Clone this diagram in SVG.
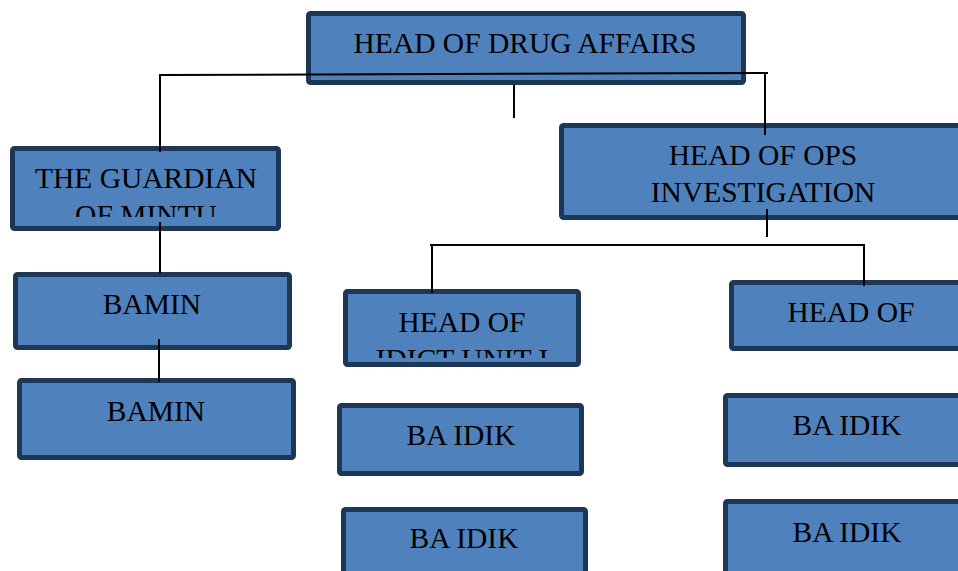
<svg xmlns="http://www.w3.org/2000/svg" width="958" height="571" viewBox="0 0 958 571">
<style>
.box{fill:#4F81BD;stroke:#1F3757;stroke-width:5;}
.t{font-family:"Liberation Serif","Times New Roman",serif;font-size:29.5px;fill:#000;text-anchor:middle;}
.c{stroke:#000;stroke-width:2;fill:none;}
</style>
<defs>
<clipPath id="clipG"><rect x="0" y="140" width="300" height="77"/></clipPath>
<clipPath id="clipI"><rect x="330" y="280" width="260" height="78"/></clipPath>
</defs>
<rect width="958" height="571" fill="#fff"/>
<g id="nodes">
<g id="n-drug"><rect class="box" x="308.5" y="13.5" width="435" height="69" rx="2"/><text class="t" x="525" y="53">HEAD OF DRUG AFFAIRS</text></g>
<g id="n-guardian"><rect class="box" x="12.5" y="148.5" width="266" height="80" rx="2"/><g clip-path="url(#clipG)"><text class="t" x="146" y="188">THE GUARDIAN</text><text class="t" x="146" y="225">OF MINTU</text></g></g>
<g id="n-bamin1"><rect class="box" x="15.5" y="274.5" width="274" height="73" rx="2"/><text class="t" x="152" y="314">BAMIN</text></g>
<g id="n-bamin2"><rect class="box" x="19.5" y="380.5" width="274" height="77" rx="2"/><text class="t" x="156" y="421">BAMIN</text></g>
<g id="n-ops"><rect class="box" x="561.5" y="125.5" width="400" height="92" rx="2"/><text class="t" x="763" y="165">HEAD OF OPS</text><text class="t" x="763" y="202">INVESTIGATION</text></g>
<g id="n-idict"><rect class="box" x="345.5" y="291.5" width="233" height="73" rx="2"/><g clip-path="url(#clipI)"><text class="t" x="462" y="332">HEAD OF</text><text class="t" x="462" y="369">IDICT UNIT I</text></g></g>
<g id="n-headof"><rect class="box" x="731.5" y="282.5" width="240" height="66" rx="2"/><text class="t" x="851" y="322">HEAD OF</text></g>
<g id="n-baidik1"><rect class="box" x="339.5" y="405.5" width="242" height="68" rx="2"/><text class="t" x="461" y="445">BA IDIK</text></g>
<g id="n-baidik2"><rect class="box" x="343.5" y="509.5" width="242" height="80" rx="2"/><text class="t" x="464" y="548">BA IDIK</text></g>
<g id="n-baidik3"><rect class="box" x="725.5" y="395.5" width="250" height="69" rx="2"/><text class="t" x="847" y="435">BA IDIK</text></g>
<g id="n-baidik4"><rect class="box" x="725.5" y="501.5" width="250" height="80" rx="2"/><text class="t" x="847" y="542">BA IDIK</text></g>
</g>
<g id="connectors">
<path class="c" d="M159,75 L768,73"/>
<path class="c" d="M160,74 V152"/>
<path class="c" d="M160,222 V273"/>
<path class="c" d="M514,85 V118"/>
<path class="c" d="M765,73 V135"/>
<path class="c" d="M767,209 V237"/>
<path class="c" d="M430,245 H865"/>
<path class="c" d="M432,244 V293"/>
<path class="c" d="M864,244 V286"/>
<path class="c" d="M159,339 V382"/>
</g>
</svg>
